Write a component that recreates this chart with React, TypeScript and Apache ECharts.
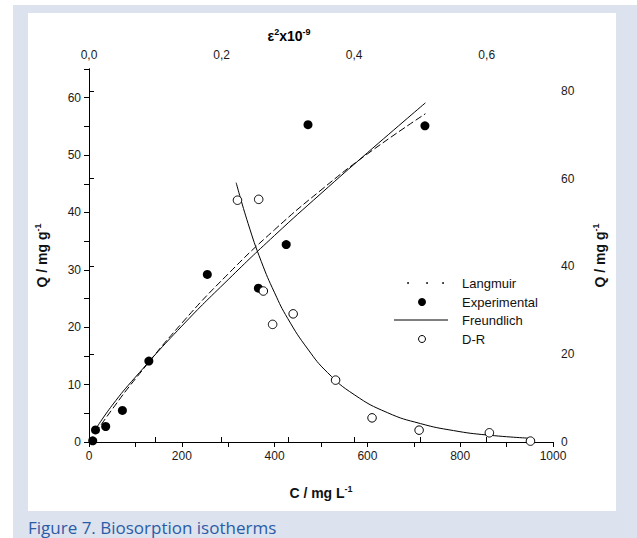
import React, { useEffect, useRef } from "react";
import * as echarts from "echarts";

// Experimental data (C / mg L-1, Q / mg g-1) – bottom & left axes
const expC = [8, 14, 36, 72, 129, 255, 365, 425, 472, 724];
const expQ = [0.2, 2.1, 2.7, 5.5, 14.1, 29.2, 26.8, 34.4, 55.3, 55.1];

// D-R data (eps^2 x10^-9, Q) – top & right axes
const drEps = [0.224, 0.256, 0.263, 0.277, 0.308, 0.372, 0.427, 0.498, 0.604, 0.666];
const drQ = [55.1, 55.3, 34.4, 26.8, 29.2, 14.1, 5.5, 2.7, 2.1, 0.2];

// Langmuir fit curve
const langC = [14, 50, 100, 200, 300, 400, 500, 600, 725];
const langQ = [1.6, 5.7, 11.0, 20.7, 29.3, 37.0, 43.9, 50.2, 57.2];

// Freundlich fit curve
const freC = [14, 50, 100, 200, 300, 400, 500, 600, 725];
const freQ = [2.2, 6.4, 11.3, 20.2, 28.3, 36.0, 43.3, 50.4, 59.1];

// D-R fit curve
const drCurveEps = [0.222, 0.24, 0.26, 0.28, 0.3, 0.33, 0.36, 0.4, 0.45, 0.5, 0.55, 0.6, 0.666];
const drCurveQ = [59.1, 49.8, 41.1, 34.0, 28.1, 21.2, 15.8, 10.8, 6.7, 4.2, 2.6, 1.6, 0.85];

const legendNames = ["Langmuir", "Experimental", "Freundlich", "D-R"];
const captionText = "Figure 7. Biosorption isotherms";

const FONT = "Liberation Sans, Arial, sans-serif";
const zip = (a: number[], b: number[]) => a.map((v, i) => [v, b[i]]);

export default function App() {
  const ref = useRef<HTMLDivElement>(null);
  useEffect(() => {
    if (!ref.current) return;
    const chart = echarts.init(ref.current, null, { renderer: "svg" });
    const axisLine = { show: true, lineStyle: { color: "#000", width: 1 } };
    const tickLabel = { color: "#1a1a1a", fontSize: 12, fontFamily: FONT };
    const rich = {
      b: { fontSize: 14, fontWeight: "bold", fontFamily: FONT, color: "#111", lineHeight: 18 },
      s: { fontSize: 9, fontWeight: "bold", fontFamily: FONT, color: "#111", verticalAlign: "top", lineHeight: 18 },
    };
    const nameStyle = { color: "#111", fontSize: 14, fontWeight: "bold", fontFamily: FONT, rich };
    const lx = 394, tx = 462;
    const legendY = [283, 302, 320, 339];
    const legendText = (i: number) => ({
      type: "text", x: tx, y: legendY[i],
      style: { text: legendNames[i], fontSize: 13, fontFamily: FONT, fill: "#111", verticalAlign: "middle" },
    });
    const option: any = {
      animation: false,
      textStyle: { fontFamily: FONT },
      grid: { left: 89, top: 69, right: 84, bottom: 96, containLabel: false },
      xAxis: [
        {
          type: "value", position: "bottom", min: 0, max: 1000, interval: 100,
          axisLine, splitLine: { show: false },
          axisTick: { show: true, length: 5, inside: false, lineStyle: { color: "#000" } },
          axisLabel: { ...tickLabel, margin: 8, formatter: (v: number) => (Math.round(v) % 200 === 0 ? String(v) : "") },
          name: "{b|C / mg L}{s|-1}", nameLocation: "middle", nameGap: 42, nameTextStyle: nameStyle,
        },
        {
          type: "value", position: "top", min: 0, max: 0.7, interval: 0.1,
          axisLine, splitLine: { show: false },
          axisTick: { show: true, length: 5, inside: false, lineStyle: { color: "#000" } },
          axisLabel: {
            ...tickLabel, margin: 8, showMaxLabel: false,
            formatter: (v: number) => {
              const k = Math.round(v * 10);
              return k % 2 === 0 && k < 7 ? (k / 10).toFixed(1).replace(".", ",") : "";
            },
          },
        },
      ],
      yAxis: [
        {
          type: "value", position: "left", min: 0, max: 65, interval: 5,
          axisLine, splitLine: { show: false },
          axisTick: { show: true, length: 5, lineStyle: { color: "#000" } },
          axisLabel: { ...tickLabel, margin: 8, formatter: (v: number) => (Math.round(v) % 10 === 0 ? String(v) : "") },
          name: "{b|Q / mg g}{s|-1}", nameLocation: "middle", nameRotate: 90, nameGap: 38, nameTextStyle: nameStyle,
        },
        {
          type: "value", position: "right", min: 0, max: 85, interval: 20,
          axisLine, splitLine: { show: false },
          axisTick: { show: true, length: 5, lineStyle: { color: "#000" } },
          axisLabel: { ...tickLabel, margin: 8, showMaxLabel: false },
          name: "{b|Q / mg g}{s|-1}", nameLocation: "middle", nameRotate: 90, nameGap: 38, nameTextStyle: nameStyle,
        },
      ],
      series: [
        {
          name: legendNames[0], type: "line", xAxisIndex: 0, yAxisIndex: 0, smooth: true, symbol: "none",
          data: zip(langC, langQ), lineStyle: { color: "#000", width: 1, type: [7, 3] }, z: 2,
        },
        {
          name: legendNames[2], type: "line", xAxisIndex: 0, yAxisIndex: 0, smooth: true, symbol: "none",
          data: zip(freC, freQ), lineStyle: { color: "#000", width: 1 }, z: 2,
        },
        {
          name: "D-R fit", type: "line", xAxisIndex: 1, yAxisIndex: 1, smooth: true, symbol: "none",
          data: zip(drCurveEps, drCurveQ), lineStyle: { color: "#000", width: 1 }, z: 2,
        },
        {
          name: legendNames[1], type: "scatter", xAxisIndex: 0, yAxisIndex: 0, symbol: "circle", symbolSize: 9,
          data: zip(expC, expQ), itemStyle: { color: "#000", opacity: 1 }, z: 4,
        },
        {
          name: legendNames[3], type: "scatter", xAxisIndex: 1, yAxisIndex: 1, symbol: "circle", symbolSize: 8.5,
          data: zip(drEps, drQ), itemStyle: { color: "#fff", borderColor: "#000", borderWidth: 1, opacity: 1 }, z: 4,
        },
      ],
      graphic: [
        {
          type: "text", x: 289, y: 36,
          style: { text: "{b|ε}{s|2}{b|x10}{s|-9}", align: "center", verticalAlign: "middle", rich },
        },
        // legend
        { type: "circle", shape: { cx: lx + 14, cy: legendY[0], r: 0.9 }, style: { fill: "#000" } },
        { type: "circle", shape: { cx: lx + 33, cy: legendY[0], r: 0.9 }, style: { fill: "#000" } },
        { type: "circle", shape: { cx: lx + 49, cy: legendY[0], r: 0.9 }, style: { fill: "#000" } },
        legendText(0),
        { type: "circle", shape: { cx: lx + 28, cy: legendY[1], r: 4 }, style: { fill: "#000" } },
        legendText(1),
        { type: "line", shape: { x1: lx, y1: legendY[2], x2: lx + 54, y2: legendY[2] }, style: { stroke: "#000", lineWidth: 1 } },
        legendText(2),
        { type: "circle", shape: { cx: lx + 28, cy: legendY[3], r: 3.5 }, style: { fill: "#fff", stroke: "#000", lineWidth: 1 } },
        legendText(3),
        // caption
        {
          type: "text", x: 28, y: 527,
          style: { text: captionText, fontSize: 17, fontFamily: "Open Sans, Noto Sans, sans-serif", fill: "#2a5ca6", verticalAlign: "middle" },
        },
      ],
    };
    chart.setOption(option);
    return () => chart.dispose();
  }, []);

  return (
    <div style={{ position: "absolute", left: 0, top: 0, width: 637, height: 538, background: "#fff", overflow: "hidden" }}>
      <div style={{ position: "absolute", left: 13, top: 5, right: 0, bottom: 0, background: "#dde2ef" }} />
      <div style={{ position: "absolute", left: 28, top: 13, width: 588, height: 498, background: "#fff" }} />
      <div ref={ref} style={{ position: "absolute", left: 0, top: 0, width: 637, height: 538 }} />
    </div>
  );
}
